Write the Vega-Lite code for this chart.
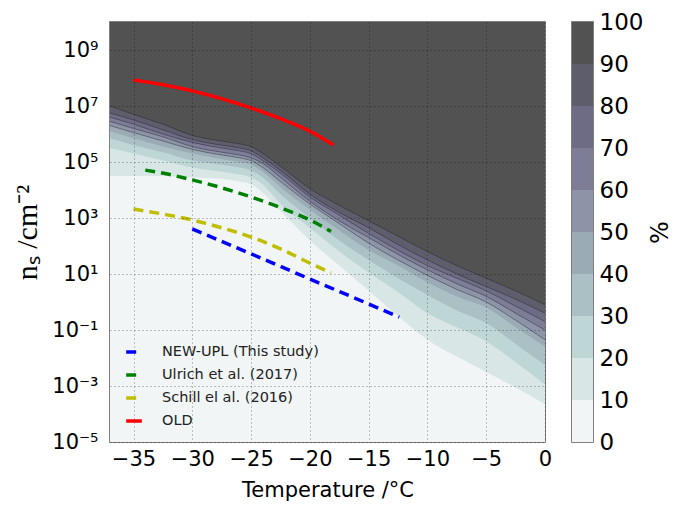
{
  "$schema": "https://vega.github.io/schema/vega-lite/v6.json",
  "background": "white",
  "padding": {"left": 12, "top": 10, "right": 2, "bottom": 5},
  "config": {
    "font": "DejaVu Sans",
    "view": {"stroke": "#555555", "strokeWidth": 1.5},
    "axis": {"labelFont": "DejaVu Sans", "labelColor": "#000000", "titleColor": "#000000", "titleFontWeight": "normal", "domain": false, "ticks": false}
  },
  "datasets": {
    "contours": [
      {"T": -37, "level": "0", "ns": 1e-5}, {"T": 0, "level": "0", "ns": 1e-5},

      {"T": -37, "level": "10", "ns": 3.16e4}, {"T": -35, "level": "10", "ns": 3.16e4}, {"T": -32.5, "level": "10", "ns": 3.16e4},
      {"T": -30, "level": "10", "ns": 2.82e4}, {"T": -27.5, "level": "10", "ns": 2.51e4}, {"T": -26, "level": "10", "ns": 2.0e4},
      {"T": -25, "level": "10", "ns": 1.58e4}, {"T": -24, "level": "10", "ns": 7.94e3}, {"T": -22.5, "level": "10", "ns": 1.78e3},
      {"T": -20, "level": "10", "ns": 158}, {"T": -17.5, "level": "10", "ns": 20}, {"T": -15, "level": "10", "ns": 2.51},
      {"T": -12.5, "level": "10", "ns": 0.316}, {"T": -10, "level": "10", "ns": 0.0447}, {"T": -7.5, "level": "10", "ns": 0.0112},
      {"T": -5, "level": "10", "ns": 0.00316}, {"T": -2.5, "level": "10", "ns": 0.000891}, {"T": 0, "level": "10", "ns": 0.000224},

      {"T": -37, "level": "20", "ns": 3.16e5}, {"T": -35, "level": "20", "ns": 2.0e5}, {"T": -32.5, "level": "20", "ns": 1.12e5},
      {"T": -30, "level": "20", "ns": 6.31e4}, {"T": -27.5, "level": "20", "ns": 4.47e4}, {"T": -26, "level": "20", "ns": 3.55e4},
      {"T": -25, "level": "20", "ns": 2.82e4}, {"T": -24, "level": "20", "ns": 1.58e4}, {"T": -22.5, "level": "20", "ns": 3.16e3},
      {"T": -20, "level": "20", "ns": 447}, {"T": -17.5, "level": "20", "ns": 63.1}, {"T": -15, "level": "20", "ns": 11.2},
      {"T": -12.5, "level": "20", "ns": 2.24}, {"T": -10, "level": "20", "ns": 0.398}, {"T": -7.5, "level": "20", "ns": 0.126},
      {"T": -5, "level": "20", "ns": 0.0398}, {"T": -2.5, "level": "20", "ns": 0.00708}, {"T": 0, "level": "20", "ns": 0.00112},

      {"T": -37, "level": "30", "ns": 7.08e5}, {"T": -35, "level": "30", "ns": 3.98e5}, {"T": -32.5, "level": "30", "ns": 2.24e5},
      {"T": -30, "level": "30", "ns": 1.12e5}, {"T": -27.5, "level": "30", "ns": 7.94e4}, {"T": -26, "level": "30", "ns": 6.31e4},
      {"T": -25, "level": "30", "ns": 5.01e4}, {"T": -24, "level": "30", "ns": 2.82e4}, {"T": -22.5, "level": "30", "ns": 7.08e3},
      {"T": -20, "level": "30", "ns": 1000}, {"T": -17.5, "level": "30", "ns": 158}, {"T": -15, "level": "30", "ns": 31.6},
      {"T": -12.5, "level": "30", "ns": 7.08}, {"T": -10, "level": "30", "ns": 1.78}, {"T": -7.5, "level": "30", "ns": 0.501},
      {"T": -5, "level": "30", "ns": 0.178}, {"T": -2.5, "level": "30", "ns": 0.0316}, {"T": 0, "level": "30", "ns": 0.00562},

      {"T": -37, "level": "40", "ns": 1.26e6}, {"T": -35, "level": "40", "ns": 7.08e5}, {"T": -32.5, "level": "40", "ns": 3.55e5},
      {"T": -30, "level": "40", "ns": 2.0e5}, {"T": -27.5, "level": "40", "ns": 1.26e5}, {"T": -26, "level": "40", "ns": 1.0e5},
      {"T": -25, "level": "40", "ns": 7.94e4}, {"T": -24, "level": "40", "ns": 4.47e4}, {"T": -22.5, "level": "40", "ns": 1.26e4},
      {"T": -20, "level": "40", "ns": 2.0e3}, {"T": -17.5, "level": "40", "ns": 355}, {"T": -15, "level": "40", "ns": 70.8},
      {"T": -12.5, "level": "40", "ns": 20.0}, {"T": -10, "level": "40", "ns": 5.01}, {"T": -7.5, "level": "40", "ns": 1.58},
      {"T": -5, "level": "40", "ns": 0.631}, {"T": -2.5, "level": "40", "ns": 0.126}, {"T": 0, "level": "40", "ns": 0.0251},

      {"T": -37, "level": "50", "ns": 2.0e6}, {"T": -35, "level": "50", "ns": 1.12e6}, {"T": -32.5, "level": "50", "ns": 5.62e5},
      {"T": -30, "level": "50", "ns": 2.82e5}, {"T": -27.5, "level": "50", "ns": 1.78e5}, {"T": -26, "level": "50", "ns": 1.41e5},
      {"T": -25, "level": "50", "ns": 1.12e5}, {"T": -24, "level": "50", "ns": 6.31e4}, {"T": -22.5, "level": "50", "ns": 2.0e4},
      {"T": -20, "level": "50", "ns": 3.16e3}, {"T": -17.5, "level": "50", "ns": 631}, {"T": -15, "level": "50", "ns": 126},
      {"T": -12.5, "level": "50", "ns": 31.6}, {"T": -10, "level": "50", "ns": 8.91}, {"T": -7.5, "level": "50", "ns": 2.82},
      {"T": -5, "level": "50", "ns": 1.0}, {"T": -2.5, "level": "50", "ns": 0.224}, {"T": 0, "level": "50", "ns": 0.0447},

      {"T": -37, "level": "60", "ns": 2.82e6}, {"T": -35, "level": "60", "ns": 1.58e6}, {"T": -32.5, "level": "60", "ns": 7.94e5},
      {"T": -30, "level": "60", "ns": 3.55e5}, {"T": -27.5, "level": "60", "ns": 2.24e5}, {"T": -26, "level": "60", "ns": 1.78e5},
      {"T": -25, "level": "60", "ns": 1.41e5}, {"T": -24, "level": "60", "ns": 8.91e4}, {"T": -22.5, "level": "60", "ns": 2.82e4},
      {"T": -20, "level": "60", "ns": 3.98e3}, {"T": -17.5, "level": "60", "ns": 794}, {"T": -15, "level": "60", "ns": 200},
      {"T": -12.5, "level": "60", "ns": 50.1}, {"T": -10, "level": "60", "ns": 14.1}, {"T": -7.5, "level": "60", "ns": 4.47},
      {"T": -5, "level": "60", "ns": 1.58}, {"T": -2.5, "level": "60", "ns": 0.398}, {"T": 0, "level": "60", "ns": 0.1},

      {"T": -37, "level": "70", "ns": 3.98e6}, {"T": -35, "level": "70", "ns": 2.24e6}, {"T": -32.5, "level": "70", "ns": 1.0e6},
      {"T": -30, "level": "70", "ns": 5.01e5}, {"T": -27.5, "level": "70", "ns": 3.16e5}, {"T": -26, "level": "70", "ns": 2.51e5},
      {"T": -25, "level": "70", "ns": 2.0e5}, {"T": -24, "level": "70", "ns": 1.12e5}, {"T": -22.5, "level": "70", "ns": 3.98e4},
      {"T": -20, "level": "70", "ns": 5.62e3}, {"T": -17.5, "level": "70", "ns": 1.26e3}, {"T": -15, "level": "70", "ns": 282},
      {"T": -12.5, "level": "70", "ns": 70.8}, {"T": -10, "level": "70", "ns": 20.0}, {"T": -7.5, "level": "70", "ns": 7.08},
      {"T": -5, "level": "70", "ns": 2.51}, {"T": -2.5, "level": "70", "ns": 0.708}, {"T": 0, "level": "70", "ns": 0.2},

      {"T": -37, "level": "80", "ns": 5.62e6}, {"T": -35, "level": "80", "ns": 3.16e6}, {"T": -32.5, "level": "80", "ns": 1.41e6},
      {"T": -30, "level": "80", "ns": 6.31e5}, {"T": -27.5, "level": "80", "ns": 3.98e5}, {"T": -26, "level": "80", "ns": 3.16e5},
      {"T": -25, "level": "80", "ns": 2.51e5}, {"T": -24, "level": "80", "ns": 1.41e5}, {"T": -22.5, "level": "80", "ns": 5.01e4},
      {"T": -20, "level": "80", "ns": 7.08e3}, {"T": -17.5, "level": "80", "ns": 1.58e3}, {"T": -15, "level": "80", "ns": 447},
      {"T": -12.5, "level": "80", "ns": 112}, {"T": -10, "level": "80", "ns": 31.6}, {"T": -7.5, "level": "80", "ns": 10.0},
      {"T": -5, "level": "80", "ns": 3.55}, {"T": -2.5, "level": "80", "ns": 1.26}, {"T": 0, "level": "80", "ns": 0.398},

      {"T": -37, "level": "90", "ns": 1.0e7}, {"T": -35, "level": "90", "ns": 5.01e6}, {"T": -32.5, "level": "90", "ns": 2.24e6},
      {"T": -30, "level": "90", "ns": 8.91e5}, {"T": -27.5, "level": "90", "ns": 5.62e5}, {"T": -26, "level": "90", "ns": 4.47e5},
      {"T": -25, "level": "90", "ns": 3.55e5}, {"T": -24, "level": "90", "ns": 2.0e5}, {"T": -22.5, "level": "90", "ns": 7.08e4},
      {"T": -20, "level": "90", "ns": 1.12e4}, {"T": -17.5, "level": "90", "ns": 2.82e3}, {"T": -15, "level": "90", "ns": 794},
      {"T": -12.5, "level": "90", "ns": 224}, {"T": -10, "level": "90", "ns": 63.1}, {"T": -7.5, "level": "90", "ns": 20.0},
      {"T": -5, "level": "90", "ns": 7.08}, {"T": -2.5, "level": "90", "ns": 2.51}, {"T": 0, "level": "90", "ns": 0.794}
    ],
    "series": [
      {"series": "NEW-UPL (This study)", "T": -30, "ns": 407},
      {"series": "NEW-UPL (This study)", "T": -25, "ns": 52.5},
      {"series": "NEW-UPL (This study)", "T": -20, "ns": 6.61},
      {"series": "NEW-UPL (This study)", "T": -15, "ns": 0.851},
      {"series": "NEW-UPL (This study)", "T": -12.4, "ns": 0.288},

      {"series": "Ulrich et al. (2017)", "T": -34, "ns": 5.13e4},
      {"series": "Ulrich et al. (2017)", "T": -32, "ns": 3.63e4},
      {"series": "Ulrich et al. (2017)", "T": -30, "ns": 2.29e4},
      {"series": "Ulrich et al. (2017)", "T": -27.5, "ns": 1.2e4},
      {"series": "Ulrich et al. (2017)", "T": -25, "ns": 5.62e3},
      {"series": "Ulrich et al. (2017)", "T": -22.5, "ns": 2.34e3},
      {"series": "Ulrich et al. (2017)", "T": -20, "ns": 851},
      {"series": "Ulrich et al. (2017)", "T": -18.2, "ns": 331},

      {"series": "Schill el al. (2016)", "T": -35, "ns": 2.09e3},
      {"series": "Schill el al. (2016)", "T": -32.5, "ns": 1.38e3},
      {"series": "Schill el al. (2016)", "T": -30, "ns": 851},
      {"series": "Schill el al. (2016)", "T": -27.5, "ns": 447},
      {"series": "Schill el al. (2016)", "T": -25, "ns": 209},
      {"series": "Schill el al. (2016)", "T": -22.5, "ns": 79.4},
      {"series": "Schill el al. (2016)", "T": -20, "ns": 24.5},
      {"series": "Schill el al. (2016)", "T": -18.2, "ns": 11.0},

      {"series": "OLD", "T": -35, "ns": 8.51e7},
      {"series": "OLD", "T": -32.5, "ns": 5.75e7},
      {"series": "OLD", "T": -30, "ns": 3.47e7},
      {"series": "OLD", "T": -27.5, "ns": 1.82e7},
      {"series": "OLD", "T": -25, "ns": 8.51e6},
      {"series": "OLD", "T": -22.5, "ns": 3.55e6},
      {"series": "OLD", "T": -20, "ns": 1.26e6},
      {"series": "OLD", "T": -18, "ns": 4.07e5}
    ],
    "bands": [
      {"level": "0", "lo": 0, "hi": 10},
      {"level": "10", "lo": 10, "hi": 20},
      {"level": "20", "lo": 20, "hi": 30},
      {"level": "30", "lo": 30, "hi": 40},
      {"level": "40", "lo": 40, "hi": 50},
      {"level": "50", "lo": 50, "hi": 60},
      {"level": "60", "lo": 60, "hi": 70},
      {"level": "70", "lo": 70, "hi": 80},
      {"level": "80", "lo": 80, "hi": 90},
      {"level": "90", "lo": 90, "hi": 100}
    ]
  },
  "bounds": "flush",
  "spacing": 27,
  "hconcat": [
    {
      "width": 435,
      "height": 420,
      "layer": [
        {
          "data": {"name": "contours"},
          "mark": {"type": "area", "interpolate": "monotone", "strokeWidth": 0},
          "encoding": {
            "x": {
              "field": "T", "type": "quantitative",
              "scale": {"domain": [-37, 0], "nice": false, "zero": false},
              "axis": {
                "values": [-35, -30, -25, -20, -15, -10, -5, 0],
                "title": "Temperature /°C",
                "labelFontSize": 21, "titleFontSize": 21,
                "labelPadding": 6, "titlePadding": 10,
                "labelFlush": false, "labelOverlap": false,
                "grid": true, "gridColor": "#000000", "gridOpacity": 0.45, "gridDash": [1, 3], "gridWidth": 1,
                "zindex": 1
              }
            },
            "y": {
              "field": "ns", "type": "quantitative", "stack": null,
              "scale": {"type": "log", "domain": [1e-5, 1e10], "nice": false},
              "axis": {
                "values": [1e-5, 1e-3, 0.1, 10, 1000, 1e5, 1e7, 1e9],
                "labelExpr": "datum.value < 1e-4 ? '10⁻⁵' : datum.value < 1e-2 ? '10⁻³' : datum.value < 1 ? '10⁻¹' : datum.value < 100 ? '10¹' : datum.value < 1e4 ? '10³' : datum.value < 1e6 ? '10⁵' : datum.value < 1e8 ? '10⁷' : '10⁹'",
                "title": "nₛ /cm⁻²",
                "titleFont": "Liberation Serif", "titleFontSize": 30,
                "labelFontSize": 21, "labelPadding": 12, "titlePadding": 9,
                "labelFlush": false, "labelOverlap": false,
                "grid": true, "gridColor": "#000000", "gridOpacity": 0.45, "gridDash": [1, 3], "gridWidth": 1,
                "zindex": 1
              }
            },
            "y2": {"datum": 1e10},
            "fill": {
              "field": "level", "type": "ordinal",
              "scale": {
                "domain": ["0", "10", "20", "30", "40", "50", "60", "70", "80", "90"],
                "range": ["#f1f5f5", "#d8e7e5", "#bed7d6", "#aac0c4", "#9babb5", "#8e94a7", "#7e7d98", "#6e6c84", "#5e5d6b", "#525252"]
              },
              "legend": null
            }
          }
        },
        {
          "data": {"name": "contours"},
          "transform": [{"filter": {"field": "level", "oneOf": ["50", "60", "70", "80", "90"]}}],
          "mark": {"type": "line", "interpolate": "monotone", "color": "#1e1e28", "strokeWidth": 0.8, "opacity": 0.55},
          "encoding": {
            "x": {"field": "T", "type": "quantitative"},
            "y": {"field": "ns", "type": "quantitative"},
            "detail": {"field": "level"}
          }
        },
        {
          "data": {"name": "series"},
          "mark": {"type": "line", "interpolate": "monotone", "strokeWidth": 3.5},
          "encoding": {
            "x": {"field": "T", "type": "quantitative"},
            "y": {"field": "ns", "type": "quantitative"},
            "stroke": {
              "field": "series", "type": "nominal",
              "scale": {
                "domain": ["NEW-UPL (This study)", "Ulrich et al. (2017)", "Schill el al. (2016)", "OLD"],
                "range": ["#0000ff", "#008000", "#bfbf00", "#ff0000"]
              },
              "legend": {
                "title": null, "orient": "none", "legendX": 14, "legendY": 320,
                "symbolType": "stroke", "symbolSize": 245, "symbolStrokeWidth": 3.5,
                "labelFont": "DejaVu Sans", "labelFontSize": 14.5, "labelColor": "#222222",
                "labelOffset": 18, "rowPadding": 6, "padding": 0
              }
            },
            "strokeDash": {
              "field": "series", "type": "nominal",
              "scale": {
                "domain": ["NEW-UPL (This study)", "Ulrich et al. (2017)", "Schill el al. (2016)", "OLD"],
                "range": [[10, 6], [10, 6], [10, 6], [1, 0]]
              },
              "legend": {
                "title": null, "orient": "none", "legendX": 14, "legendY": 320,
                "symbolType": "stroke", "symbolSize": 245, "symbolStrokeWidth": 3.5,
                "labelFont": "DejaVu Sans", "labelFontSize": 14.5, "labelColor": "#222222",
                "labelOffset": 18, "rowPadding": 6, "padding": 0
              }
            }
          }
        }
      ]
    },
    {
      "width": 21,
      "height": 420,
      "data": {"name": "bands"},
      "mark": {"type": "rect"},
      "encoding": {
        "y": {
          "field": "lo", "type": "quantitative",
          "scale": {"domain": [0, 100], "nice": false, "zero": true},
          "axis": {
            "orient": "right",
            "values": [0, 10, 20, 30, 40, 50, 60, 70, 80, 90, 100],
            "title": "%", "titleFontSize": 24, "titleAngle": 270, "titlePadding": 30,
            "labelFontSize": 23, "labelPadding": 6, "labelFlush": false, "labelOverlap": false,
            "grid": false
          }
        },
        "y2": {"field": "hi"},
        "fill": {
          "field": "level", "type": "ordinal",
          "scale": {
            "domain": ["0", "10", "20", "30", "40", "50", "60", "70", "80", "90"],
            "range": ["#f1f5f5", "#d8e7e5", "#bed7d6", "#aac0c4", "#9babb5", "#8e94a7", "#7e7d98", "#6e6c84", "#5e5d6b", "#525252"]
          },
          "legend": null
        }
      }
    }
  ]
}
